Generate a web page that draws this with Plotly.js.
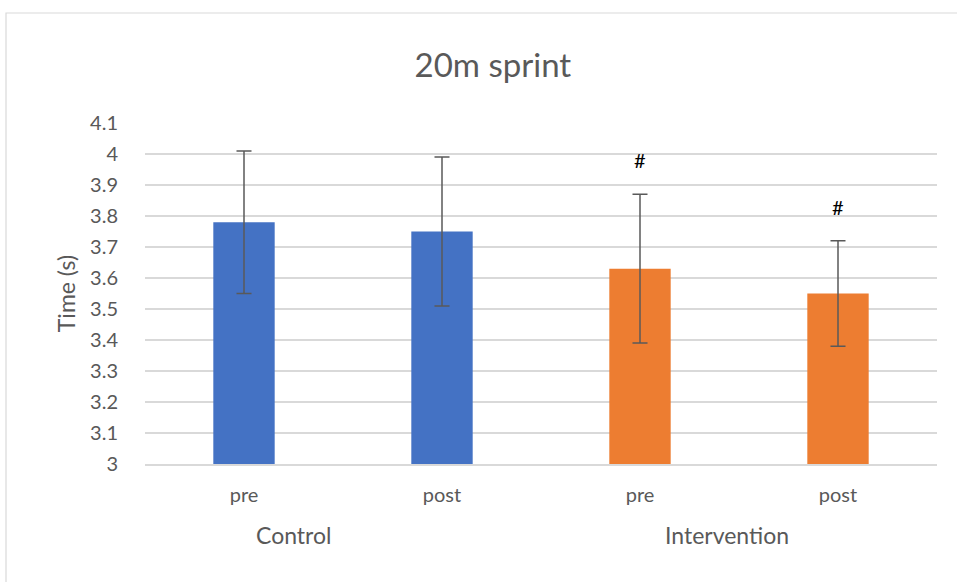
<!DOCTYPE html>
<html><head><meta charset="utf-8">
<script src="https://cdn.plot.ly/plotly-3.0.1.min.js"></script>
<style>html,body{margin:0;padding:0;background:#fff}#chart{width:957px;height:582px}</style>
</head><body><div id="chart"></div>
<script>
const tickLabels = ["pre", "post", "pre", "post"];
const groups = ["Control", "Intervention"];
const values = [3.78, 3.75, 3.63, 3.55];
const errors = [0.23, 0.24, 0.24, 0.17];
const colors = ["#4472C4", "#4472C4", "#ED7D31", "#ED7D31"];
const markLabels = ["", "", "#", "#"];
const markY = [null, null, 3.98, 3.83];
const groupPos = [0.25, 2.44];

const idx = values.map((v, i) => i);
const font = "Lato, 'Open Sans', sans-serif";

const trace = {
  type: "bar", x: idx, y: values, width: 0.31,
  marker: {color: colors},
  error_y: {type: "data", array: errors, visible: true, color: "#595959", thickness: 1.5, width: 7.5},
  hoverinfo: "none"
};

const annotations = [];
markLabels.forEach((t, i) => {
  if (t) annotations.push({x: i, y: markY[i], xref: "x", yref: "y", text: t, showarrow: false,
    font: {family: font, size: 20, color: "#000"}});
});
groups.forEach((g, i) => annotations.push({x: groupPos[i], y: 0, xref: "x", yref: "paper", yanchor: "middle", yshift: -71,
  text: g, showarrow: false, font: {family: font, size: 23, color: "#595959"}}));

const layout = {
  width: 957, height: 582,
  margin: {l: 145, r: 20, t: 123, b: 118},
  paper_bgcolor: "#fff", plot_bgcolor: "#fff",
  title: {text: "20m sprint", x: 0.515, xanchor: "center", y: 0.888, yanchor: "middle",
    font: {family: font, size: 33, color: "#595959"}},
  showlegend: false,
  xaxis: {range: [-0.5, 3.5], tickvals: idx, ticktext: tickLabels, showgrid: false, zeroline: false,
    showline: true, linecolor: "#d9d9d9", linewidth: 1.5, ticks: "", ticklen: 0, ticklabelstandoff: 12,
    tickfont: {family: font, size: 20, color: "#595959"}, fixedrange: true},
  yaxis: {range: [3, 4.1], tickvals: [3,3.1,3.2,3.3,3.4,3.5,3.6,3.7,3.8,3.9,4,4.1],
    ticktext: ["3","3.1","3.2","3.3","3.4","3.5","3.6","3.7","3.8","3.9","4","4.1"],
    showgrid: true, gridcolor: "#d9d9d9", gridwidth: 1.5, zeroline: false, ticks: "",
    tickfont: {family: font, size: 20, color: "#595959"}, ticklabelstandoff: 26,
    title: {text: "Time (s)", standoff: 8, font: {family: font, size: 23, color: "#595959"}}, fixedrange: true},
  annotations: annotations,
  shapes: [{type: "rect", xref: "paper", yref: "paper", x0: -0.1755, x1: 1.05, y0: -0.5, y1: 1.3226,
    line: {color: "#d9d9d9", width: 1.2}, fillcolor: "rgba(0,0,0,0)", layer: "below"}]
};
Plotly.newPlot("chart", [trace], layout, {displayModeBar: false, staticPlot: true});
</script></body></html>
